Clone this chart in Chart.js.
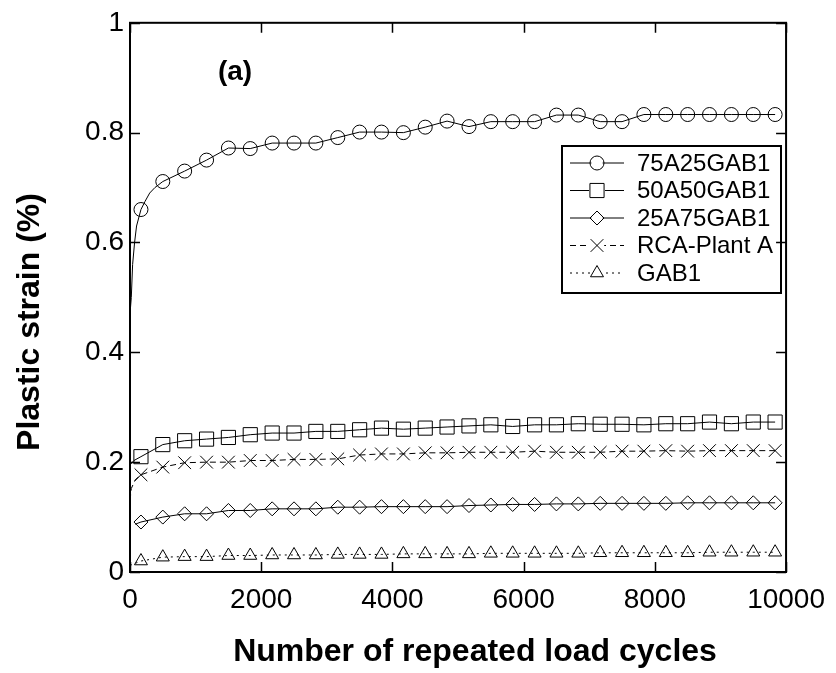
<!DOCTYPE html>
<html>
<head>
<meta charset="utf-8">
<script src="https://cdn.jsdelivr.net/npm/chart.js@4/dist/chart.umd.min.js"></script>
<style>
  html, body { margin: 0; padding: 0; background: #fff; }
  #wrap { width: 836px; height: 673px; }
</style>
</head>
<body>
<div id="wrap"><canvas id="myChart" width="836" height="673"></canvas></div>
<script>
// axis ticks
const cycleTicks = [0, 2000, 4000, 6000, 8000, 10000];
const strainTicks = [0, 0.2, 0.4, 0.6, 0.8, 1];

// cycles where the markers sit (same for every series)
const markerCycles = [167, 500, 833, 1167, 1500, 1833, 2167, 2500, 2833, 3167,
  3500, 3833, 4167, 4500, 4833, 5167, 5500, 5833, 6167, 6500,
  6833, 7167, 7500, 7833, 8167, 8500, 8833, 9167, 9500, 9833];

const seriesNames = ["75A25GAB1", "50A50GAB1", "25A75GAB1", "RCA-Plant A", "GAB1"];

// marker values (plastic strain %)
const strain75A25 = [0.660, 0.711, 0.730, 0.750, 0.772, 0.771, 0.781, 0.781, 0.781, 0.791,
  0.801, 0.801, 0.800, 0.810, 0.821, 0.811, 0.820, 0.820, 0.820, 0.832,
  0.832, 0.820, 0.820, 0.833, 0.833, 0.833, 0.833, 0.833, 0.833, 0.833];
const strain50A50 = [0.210, 0.232, 0.239, 0.242, 0.245, 0.250, 0.253, 0.253, 0.256, 0.256,
  0.259, 0.262, 0.260, 0.262, 0.264, 0.266, 0.268, 0.265, 0.268, 0.268,
  0.270, 0.269, 0.269, 0.268, 0.270, 0.270, 0.273, 0.270, 0.273, 0.273];
const strain25A75 = [0.091, 0.100, 0.106, 0.106, 0.112, 0.112, 0.115, 0.115, 0.115, 0.118,
  0.118, 0.119, 0.119, 0.119, 0.119, 0.121, 0.122, 0.123, 0.123, 0.124,
  0.124, 0.125, 0.125, 0.125, 0.125, 0.126, 0.126, 0.126, 0.126, 0.126];
const strainRCA = [0.177, 0.191, 0.199, 0.200, 0.200, 0.203, 0.203, 0.205, 0.205, 0.206,
  0.213, 0.215, 0.215, 0.217, 0.217, 0.218, 0.218, 0.218, 0.220, 0.218,
  0.218, 0.218, 0.220, 0.220, 0.221, 0.220, 0.221, 0.221, 0.221, 0.221];
const strainGAB1 = [0.020, 0.027, 0.028, 0.028, 0.030, 0.030, 0.031, 0.031, 0.031, 0.032,
  0.032, 0.032, 0.033, 0.033, 0.033, 0.033, 0.034, 0.034, 0.034, 0.034,
  0.034, 0.035, 0.035, 0.035, 0.035, 0.035, 0.036, 0.036, 0.036, 0.036];

// extra line points without a marker (early part of each curve)
const lineCycles75A25 = [0, 20, 40, 70, 100, 230, 300, 380];
const lineStrain75A25 = [0.47, 0.50, 0.56, 0.60, 0.63, 0.675, 0.69, 0.70];
const lineCycles50A50 = [0, 60];
const lineStrain50A50 = [0.195, 0.203];
const lineCycles25A75 = [80];
const lineStrain25A75 = [0.087];
const lineCyclesRCA = [0, 20, 80];
const lineStrainRCA = [0.13, 0.152, 0.168];
const lineCyclesGAB1 = [0];
const lineStrainGAB1 = [0.012];

const FONT = "'Liberation Sans', Arial, sans-serif";
const markerSize = { circle: 7, rect: 10, rectRot: 7, crossRot: 9, triangle: 7.5 };

function buildPoints(lineX, lineY, markY) {
    const pts = lineX.map((x, i) => ({ x: x, y: lineY[i], m: false }));
    markerCycles.forEach((x, i) => pts.push({ x: x, y: markY[i], m: true }));
    pts.sort((a, b) => a.x - b.x);
    return pts;
}

function makeDataset(label, pts, style, dash) {
    const radius = markerSize[style];
    return {
        label: label,
        data: pts,
        showLine: true,
        borderColor: "#000",
        borderWidth: 1,
        borderDash: dash,
        pointStyle: style,
        pointRadius: (ctx) => (ctx.raw && ctx.raw.m ? radius : 0),
        pointHoverRadius: 0,
        pointBorderColor: "#000",
        pointBackgroundColor: "rgba(0,0,0,0)",
        pointBorderWidth: 1,
        tension: 0,
    };
}

const datasets = [
    makeDataset(seriesNames[0], buildPoints(lineCycles75A25, lineStrain75A25, strain75A25), "circle", []),
    makeDataset(seriesNames[1], buildPoints(lineCycles50A50, lineStrain50A50, strain50A50), "rect", []),
    makeDataset(seriesNames[2], buildPoints(lineCycles25A75, lineStrain25A75, strain25A75), "rectRot", []),
    makeDataset(seriesNames[3], buildPoints(lineCyclesRCA, lineStrainRCA, strainRCA), "crossRot", [6, 4]),
    makeDataset(seriesNames[4], buildPoints(lineCyclesGAB1, lineStrainGAB1, strainGAB1), "triangle", [2, 4]),
];

// frame, inward ticks, titles, panel label and legend
const decorPlugin = {
    id: "decor",
    afterDraw(chart) {
        const ctx = chart.ctx;
        const a = chart.chartArea;
        const xs = chart.scales.x;
        const ys = chart.scales.y;
        ctx.save();
        ctx.strokeStyle = "#000";
        ctx.lineWidth = 1.5;
        ctx.beginPath();
        cycleTicks.forEach((v) => {
            const px = Math.round(xs.getPixelForValue(v)) + 0.5;
            ctx.moveTo(px, a.bottom); ctx.lineTo(px, a.bottom - 10);
            ctx.moveTo(px, a.top); ctx.lineTo(px, a.top + 10);
        });
        strainTicks.forEach((v) => {
            const py = Math.round(ys.getPixelForValue(v)) + 0.5;
            ctx.moveTo(a.left, py); ctx.lineTo(a.left + 10, py);
            ctx.moveTo(a.right, py); ctx.lineTo(a.right - 10, py);
        });
        ctx.stroke();
        ctx.lineWidth = 2;
        ctx.strokeRect(a.left, a.top, a.right - a.left, a.bottom - a.top);

        // titles
        ctx.fillStyle = "#000";
        ctx.font = "bold 32px " + FONT;
        ctx.textAlign = "center";
        ctx.textBaseline = "middle";
        ctx.fillText("Number of repeated load cycles", 475, 652);
        ctx.save();
        ctx.translate(30, 322);
        ctx.rotate(-Math.PI / 2);
        ctx.fillText("Plastic strain (%)", 0, 0);
        ctx.restore();
        ctx.font = "bold 28px " + FONT;
        ctx.fillText("(a)", 235, 72);

        // legend
        const box = { x: 562, y: 146, w: 219, h: 147 };
        ctx.lineWidth = 2;
        ctx.strokeRect(box.x, box.y, box.w, box.h);
        ctx.font = "24px " + FONT;
        ctx.textAlign = "left";
        chart.data.datasets.forEach((ds, i) => {
            const cy = 163 + i * 27.5;
            ctx.save();
            ctx.lineWidth = 1;
            ctx.setLineDash(ds.borderDash || []);
            ctx.beginPath();
            ctx.moveTo(570, cy); ctx.lineTo(624, cy);
            ctx.stroke();
            ctx.restore();
            const r = markerSize[ds.pointStyle];
            ctx.save();
            ctx.fillStyle = "#fff";
            ctx.fillRect(597 - r * 0.8, cy - r * 0.8, r * 1.6, r * 1.6);
            ctx.fillStyle = "rgba(0,0,0,0)";
            ctx.strokeStyle = "#000";
            ctx.lineWidth = 1;
            if (Chart.helpers && Chart.helpers.drawPoint) {
                Chart.helpers.drawPoint(ctx, { pointStyle: ds.pointStyle, radius: r, rotation: 0, borderWidth: 1 }, 597, cy);
            }
            ctx.restore();
            ctx.fillStyle = "#000";
            ctx.fillText(ds.label, 637, cy + 1);
        });
        ctx.restore();
    },
};

const chart = new Chart(document.getElementById("myChart"), {
    type: "scatter",
    data: { datasets: datasets },
    options: {
        responsive: false,
        animation: false,
        events: [],
        layout: { padding: { left: 0, right: 46, top: 19, bottom: 0 } },
        plugins: { legend: { display: false }, tooltip: { enabled: false } },
        scales: {
            x: {
                type: "linear",
                min: 0,
                max: 10000,
                afterBuildTicks: (s) => { s.ticks = cycleTicks.map((v) => ({ value: v })); },
                afterFit: (s) => { s.height = 101; },
                grid: { display: false, drawTicks: false },
                border: { display: false },
                ticks: {
                    color: "#000",
                    font: { family: FONT, size: 28 },
                    padding: 11,
                    maxRotation: 0,
                    autoSkip: false,
                    callback: (v) => String(v),
                },
            },
            y: {
                type: "linear",
                min: 0,
                max: 1,
                afterBuildTicks: (s) => { s.ticks = strainTicks.map((v) => ({ value: v })); },
                afterFit: (s) => { s.width = 130; },
                grid: { display: false, drawTicks: false },
                border: { display: false },
                ticks: {
                    color: "#000",
                    font: { family: FONT, size: 28 },
                    padding: 6,
                    autoSkip: false,
                    callback: (v) => String(v),
                },
            },
        },
    },
    plugins: [decorPlugin],
});
</script>
</body>
</html>
